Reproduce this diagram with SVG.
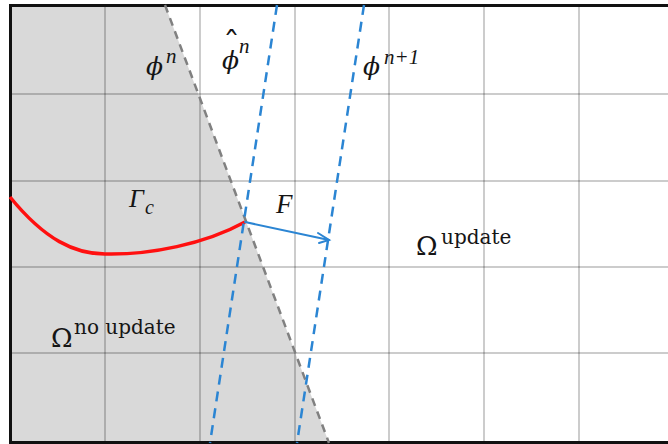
<svg xmlns="http://www.w3.org/2000/svg" width="668" height="444" viewBox="0 0 668 444">
<defs>
<style>
.grid{stroke:#000;stroke-opacity:0.27;stroke-width:1.5;fill:none}
.border{stroke:#111;stroke-width:3;fill:none}
.blue{stroke:#2b85d3;stroke-width:2.5;stroke-dasharray:10 7;fill:none}
.math{font-family:"Liberation Serif","DejaVu Serif",serif;font-style:italic;fill:#151515}
.phi{font-family:"DejaVu Serif","Liberation Serif",serif;font-style:italic;fill:#151515}
.up{font-family:"DejaVu Serif","Liberation Serif",serif;fill:#151515}
</style>
</defs>
<rect x="0" y="0" width="668" height="444" fill="#fff"/>
<g id="region-no-update-fill">
<polygon points="10,5 165,5 329,443 10,443" fill="#d9d9d9"/>
</g>
<g id="grid">
<line class="grid" x1="105" y1="5" x2="105" y2="443"/>
<line class="grid" x1="200" y1="5" x2="200" y2="443"/>
<line class="grid" x1="295" y1="5" x2="295" y2="443"/>
<line class="grid" x1="389" y1="5" x2="389" y2="443"/>
<line class="grid" x1="484" y1="5" x2="484" y2="443"/>
<line class="grid" x1="579" y1="5" x2="579" y2="443"/>
<line class="grid" x1="10" y1="94" x2="668" y2="94"/>
<line class="grid" x1="10" y1="181" x2="668" y2="181"/>
<line class="grid" x1="10" y1="267" x2="668" y2="267"/>
<line class="grid" x1="10" y1="353" x2="668" y2="353"/>
</g>
<g id="borders">
<line class="border" x1="9" y1="5.5" x2="668" y2="5.5"/>
<line class="border" x1="10.5" y1="4" x2="10.5" y2="444"/>
<line class="border" x1="9" y1="442.5" x2="668" y2="442.5"/>
</g>
<g id="connectors">
<line id="phi-n" x1="165" y1="5" x2="329" y2="443" stroke="#808080" stroke-width="2.5" stroke-dasharray="8 6"/>
<path id="gamma-c" d="M10,197 C45,240 75,254 105,254 C150,255 205,244 245,222" fill="none" stroke="#ff1010" stroke-width="3.5"/>
<line id="phi-hat-n" class="blue" x1="277" y1="5" x2="210" y2="443"/>
<line id="phi-n1" class="blue" x1="364" y1="5" x2="297" y2="443"/>
<g id="arrow-F" stroke="#2b85d3" stroke-width="2" fill="none" stroke-linecap="round">
<line x1="245" y1="222" x2="329" y2="240"/>
<polyline points="318,233 329,240 319,243"/>
</g>
</g>
<g id="label-phi-n">
<text class="phi" x="146" y="75" font-size="25">ϕ</text>
<text class="math" x="166" y="63" font-size="21">n</text>
</g>
<g id="label-phi-hat-n">
<text class="phi" x="222" y="69" font-size="25">ϕ<tspan class="up" font-style="normal" font-size="34" dx="-16" dy="-13">ˆ</tspan><tspan class="math" font-size="21" dx="-1" dy="-3">n</tspan></text>
</g>
<g id="label-phi-n1">
<text class="phi" x="363" y="75" font-size="25">ϕ</text>
<text class="math" x="384" y="64" font-size="21">n+1</text>
</g>
<g id="label-gamma">
<text class="math" x="129" y="207" font-size="26">Γ</text>
<text class="math" x="145" y="214" font-size="20">c</text>
</g>
<g id="label-F">
<text class="math" x="276" y="213" font-size="27">F</text>
</g>
<g id="label-omega-no-update">
<text class="up" x="51" y="347" font-size="26">Ω</text>
<text class="up" x="74" y="334" font-size="20">no update</text>
</g>
<g id="label-omega-update">
<text class="up" x="416" y="255" font-size="26">Ω</text>
<text class="up" x="441" y="244" font-size="20">update</text>
</g>
</svg>
